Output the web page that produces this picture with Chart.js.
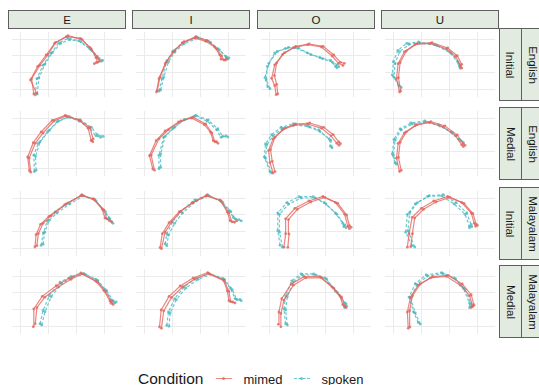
<!DOCTYPE html>
<html>
<head>
<meta charset="utf-8">
<script src="https://cdn.jsdelivr.net/npm/chart.js@4"></script>
<style>
body { margin: 0; background: #fff; font-family: "Liberation Sans", Arial, sans-serif; }
#wrap { position: relative; width: 539px; height: 385px; overflow: hidden; }
.panel { position: absolute; }
.strip { position: absolute; background: #e1ebdf; border: 1px solid #5e5e5e; box-sizing: border-box;
  color: #1a1a1a; font-size: 11.5px; display: flex; align-items: center; justify-content: center; }
.vtext { transform: rotate(90deg); white-space: nowrap; }
#legend { position: absolute; left: 138px; top: 370px; height: 18px; display: flex; align-items: center; color: #1a1a1a; }
#legend .title { font-size: 15.5px; margin-right: 12px; }
#legend .item { font-size: 13px; margin-right: 11px; }
.key { position: relative; width: 16px; height: 10px; margin-right: 12px; }
.key .ln { position: absolute; left: 0; right: 0; top: 4px; }
.key .dot { position: absolute; left: 6px; top: 3px; width: 3px; height: 3px; border-radius: 50%; }
</style>
</head>
<body>
<div id="wrap"></div>
<script>
// |------------------------------- data -------------------------------|

var vowels = ['E', 'I', 'O', 'U'];
var languages = ['English', 'English', 'Malayalam', 'Malayalam'];
var positions = ['Initial', 'Medial', 'Initial', 'Medial'];
var xTicks = [0, 10, 20, 30];
var yTicks = [0, 10, 20, 30];

// contours per vowel (E, I, O, U) as [x, y] pairs, two repetitions each
var mimedEnglishInitial = [
  [[4.8,-3],[4,6.2],[7,14.3],[9.8,20.5],[12.6,28],[17,32],[22,29.8],[25.3,24],[27,18.8],[27.6,16],[26.4,15.2]],
  [[4.3,-1.8],[5.2,6.2],[7.4,15.2],[10.2,22.3],[13.6,27.7],[18,30.7],[21.9,28.6],[25.2,25],[26.9,20.5],[27.4,17.9],[29,17.4]],
  [[2.4,-3.4],[1.9,2],[0.8,6.4],[1.9,14.5],[4.7,20.7],[8.6,24.8],[13.6,26.6],[18.6,25.2],[22.4,19.8],[24.7,15.4],[26.3,14.1]],
  [[2.2,-1.8],[1.1,6.2],[1.7,15.2],[3.9,22.3],[7.8,26.8],[13.3,27.3],[18.9,24.1],[22.2,19.6],[23.9,14.3],[24.4,12.5]]
];
var mimedEnglishInitial2 = [
  [[5.8,-2.6],[3.6,5.4],[6.2,13.6],[9.2,20.4],[12.2,27.4],[16.4,31.4],[21.4,30.4],[24.8,25],[27.4,19.6],[28.3,16.8],[27.2,16]],
  [[4.6,-1],[5.6,7.2],[7.8,16],[10.8,23],[14.2,28.4],[18.4,31.4],[22.4,29.2],[25.8,24.2],[27.6,19.8],[28.4,17.4],[29.4,18.2]],
  [[3,-3],[2.6,2.8],[1.8,8],[2.6,15.6],[5.4,21.8],[9.4,25.6],[14.2,27],[19.2,25.6],[23,20.4],[25.4,16],[26.8,15.4]],
  [[2.6,-1.2],[1.8,6.8],[2.4,15.8],[4.6,22.8],[8.4,27.2],[13.8,27.8],[19.4,24.6],[22.8,20],[24.4,14.8],[23.9,13.2]]
];
var spokenEnglishInitial = [
  [[5.3,-3.6],[5.9,6.2],[8.1,14.3],[10.9,21.4],[13.7,27.7],[17,30.4],[20.9,29],[24.8,24],[27.6,18.4],[28.9,16.6]],
  [[5.2,-1.3],[6.3,6.2],[8,17],[10.2,22.7],[13.6,27.7],[18.6,31.2],[23,28.6],[26.3,24.1],[29.1,19.6],[29.7,17.9]],
  [[0.2,0.2],[-1.1,5.5],[-0.7,13.6],[1.9,21.6],[5.8,24.3],[9.1,24.8],[13.6,21.6],[18,18.9],[21.9,17.1],[23.6,13.6],[24.1,12.7]],
  [[2.8,0.9],[0.2,7.1],[0.6,15.2],[2.2,22.3],[5.6,26.8],[9.4,27.7],[15.6,25.9],[20.6,21.4],[23.3,15.2],[23.9,12.5]]
];
var spokenEnglishInitial2 = [
  [[6,-3],[6.6,6.6],[8.8,15],[11.4,21.8],[14.4,27.4],[17.6,29.6],[21.6,28.4],[25.4,23.4],[28.2,18.2],[29.4,17.2]],
  [[5.8,-0.6],[6.9,7],[8.6,16.2],[10.8,22],[14.2,27.2],[19.2,30.6],[23.6,28],[26.8,23.4],[29.4,19],[30.2,18.6]],
  [[-0.6,1.4],[-1.6,6.8],[-0.2,15.4],[2.8,22.6],[6.8,25],[10.4,24.6],[14.8,20.6],[19,18.2],[22.6,16],[24.2,14.4],[24.8,13.4]],
  [[2,2],[-0.4,8.4],[0,16.4],[1.6,23.2],[4.8,27.4],[9,28.2],[15,26.6],[20.2,22.2],[23,16.4],[23.6,13.6]]
];
var mimedEnglishMedial = [
  [[3.7,-2.5],[3.1,5.9],[5.3,14.8],[8.1,21],[12,28.2],[16.4,31.2],[21.4,28.2],[24.2,23.8],[25.3,16.6],[25.9,15.7]],
  [[3.6,-1.3],[2.4,7.7],[5.2,17.5],[8.6,22.9],[13,28.2],[17.4,30.5],[21.9,26.4],[24.1,21],[25.2,15.7],[26.3,14.8]],
  [[1.3,-3],[0.2,3.2],[-0.3,10.4],[1.3,17.5],[4.7,22.9],[8.6,25.5],[13.6,26.4],[18.6,23.8],[22,19.3],[24.1,14.8],[24.9,13.6]],
  [[2.2,-2.1],[1.1,5.9],[1.7,14.8],[3.9,21],[7.8,25.5],[12.8,27.3],[17.8,24.6],[22.2,19.3],[24.4,13.9],[25,12.9]]
];
var mimedEnglishMedial2 = [
  [[3.2,-1.6],[2.6,6.6],[4.6,15.2],[7.4,21.6],[11.4,28.6],[16,31.6],[21,28.8],[24.8,24.4],[26,17.4],[25.4,16.4]],
  [[3,-0.6],[1.8,7.4],[4.2,16.4],[7.4,22.2],[12.2,27.6],[16.8,30],[21.4,26],[23.6,21.6],[24.6,16.4],[25.8,15.8]],
  [[2,-2.2],[1,4],[0.4,11],[2,18.4],[5.4,23.8],[9.4,26.4],[14.4,27],[19.4,24.4],[22.8,20],[24.8,15.6],[25.4,14.6]],
  [[2.8,-1.4],[1.8,6.4],[2.4,15.4],[4.6,21.6],[8.4,26],[13.4,27.8],[18.4,25.2],[22.8,19.8],[25,14.6],[25.6,13.6]]
];
var spokenEnglishMedial = [
  [[5,-2.1],[4.8,7.7],[6.4,14.8],[9.8,22],[13.1,27.7],[17,30.5],[20.9,28.2],[24.8,23.8],[27,19.3],[28.7,18.4]],
  [[5.2,-0.4],[5.2,7.7],[6.9,18.4],[10.2,23.8],[14.1,28.8],[18,31.2],[22.4,28.2],[25.8,22.9],[27.4,18.4],[29.1,19.3]],
  [[0.8,-3],[-1.4,5.9],[-0.9,13.9],[1.3,19.3],[4.7,23.8],[9.1,26],[14.1,24.6],[18,22],[21.9,16.6],[22.4,12.1]],
  [[1.1,2.3],[0,7.7],[0.6,16.6],[2.8,22.9],[6.7,26.4],[11.7,27.7],[16.7,25.2],[21.1,21],[23.9,16.6],[25,15.2]]
];
var spokenEnglishMedial2 = [
  [[5.6,-1.4],[5.4,7],[7,15.6],[10.4,22.6],[13.6,28.2],[17.4,30.9],[21.4,28.8],[25.4,24.4],[27.6,19.8],[29.6,19]],
  [[5.8,0.4],[5.8,8.4],[7.4,19],[10.8,24.4],[14.6,29.2],[18.4,31.6],[22.8,28.8],[26.2,23.6],[28,19],[29.8,18.6]],
  [[0.2,-2.2],[-1.8,6.6],[-1.4,14.4],[0.8,20],[4.2,24.4],[8.6,26.6],[13.6,25.4],[17.6,22.8],[21.4,17.4],[21.8,13]],
  [[0.6,3],[-0.4,8.4],[0.2,17.2],[2.4,23.4],[6.2,27],[11.2,28.2],[16.2,25.8],[20.6,21.6],[23.4,17.2],[24.4,16]]
];
var mimedMalayalamInitial = [
  [[5.9,1.4],[6.4,8.6],[8.1,14.8],[10.9,19.3],[16.4,26.4],[22,31.8],[26.4,29.1],[29.8,22.9],[30.9,17.5],[32.6,15.7]],
  [[6.1,-0.4],[7.4,9.5],[9.7,15.7],[13,22],[17.4,27.3],[22.4,31.8],[27.4,28.2],[30.2,21],[31.3,15.7],[33,16.3]],
  [[5.2,0.5],[5.8,8.6],[5.8,17.5],[9.1,23.8],[14.1,28.2],[19.1,30.9],[23.6,27.3],[26.9,20.2],[28,13],[28.6,11.6]],
  [[5,0.5],[5.6,8.6],[6.7,18.4],[10,23.8],[14.4,28.2],[19.4,30.9],[24.4,27.3],[27.8,21],[28.9,14.8],[29.4,13]]
];
var mimedMalayalamInitial2 = [
  [[5.2,0.6],[5.6,8],[7.2,14.2],[10.2,19],[15.8,26],[21.6,31.4],[26,29.6],[29.2,23.4],[30.2,18],[31.8,16.4]],
  [[5.6,0.2],[6.4,8.6],[8.8,15.2],[12.4,21.6],[17,27],[22,31.2],[27,28.8],[29.6,21.6],[30.6,16.4],[32.2,15.4]],
  [[6.6,0.4],[7,8.4],[6.8,17],[10,23.2],[14.8,27.6],[19.8,30.4],[24.4,26.8],[27.6,19.8],[28.6,13.4],[29.2,12.4]],
  [[6.2,0.8],[6.8,8.6],[7.6,18],[10.8,23.2],[15.2,27.6],[20.2,30.4],[25.2,26.8],[28.4,20.6],[29.6,14.2],[30,13.6]]
];
var spokenMalayalamInitial = [
  [[8.1,2.3],[8.7,9.5],[10.3,16.6],[13.1,21],[17.6,26.4],[22.6,31.3],[27,28.2],[30.3,22],[32,17.5],[33.1,14.8]],
  [[8,1.4],[8.6,7.7],[10.8,14.8],[13.6,21],[18.6,28.2],[23,31.3],[28,27.3],[30.8,22],[32.4,17.5],[34.6,16.3]],
  [[4.7,0.5],[3.6,9.5],[3.6,20.2],[6.9,26.4],[11.3,30],[16.3,30],[20.2,26.4],[24.1,20.2],[26.9,13.9],[27.4,12.1]],
  [[6.7,1.4],[4.4,9.5],[5,20.2],[7.8,26.4],[12.2,30.9],[17.2,31.3],[21.7,26.4],[25.6,20.2],[27.2,13],[27.2,12.1]]
];
var spokenMalayalamInitial2 = [
  [[7.4,1.6],[8.2,9],[9.6,16],[12.4,21.6],[17,27],[22,31.8],[26.6,28.8],[29.8,22.6],[31.6,18],[32.6,15.6]],
  [[7.4,2.4],[8,8.4],[10,15.6],[13,21.8],[18,28.8],[22.6,31.8],[27.4,28],[30.2,22.6],[31.8,18.2],[33.8,17]],
  [[3.8,1.6],[3,10.4],[3,21],[6.2,27.2],[10.6,30.8],[15.6,30.8],[19.6,27.2],[23.6,21],[26.2,14.8],[26.6,12.8]],
  [[7.6,0.6],[5.2,10.4],[5.8,21],[8.6,27.2],[12.8,31.4],[17.8,32],[22.4,27.2],[26.2,21],[27.8,14],[28,12.8]]
];
var mimedMalayalamMedial = [
  [[5.3,1.3],[5.9,11],[8.7,17.3],[13.7,23.6],[18.1,28],[22,31.3],[27.6,26.3],[30.3,20.9],[32.6,14.6],[33.1,12.9]],
  [[6.1,-1.4],[6.9,9.1],[9.7,17.1],[13.6,23.4],[18,28.2],[23,31.4],[28.6,27],[30.2,20.7],[30.8,14.6],[32.4,13.8]],
  [[4.1,-0.5],[4.1,7.5],[5.2,15.5],[8.6,24.5],[13,28.9],[18.6,28.9],[23,22.7],[25.8,17.3],[26.9,12],[27.4,11.1]],
  [[5.3,-1.4],[5,8.4],[6.1,17.3],[8.9,24.5],[13.3,28.9],[18.9,29.8],[23.9,24.5],[27.2,18.2],[28.3,12],[27.8,11.1]]
];
var mimedMalayalamMedial2 = [
  [[4.6,-0.4],[4.8,10.2],[7.8,17.8],[12.8,24.2],[17.4,28.6],[21.6,31.8],[27,26.8],[29.8,21.4],[32,15],[32.4,13.6]],
  [[5.4,-0.6],[6,9.6],[8.8,17.8],[12.8,24],[17.4,28.8],[22.6,32],[28.2,27.6],[29.6,21.2],[30.2,15.2],[31.6,14.4]],
  [[3.2,1],[3.4,8.4],[4.4,16.4],[7.8,25.2],[12.4,29.6],[18,29.6],[22.4,23.4],[25.2,18],[26.2,12.8],[26.8,11.8]],
  [[5.9,-0.6],[5.8,9.2],[6.8,18],[9.6,25.2],[14,29.6],[19.6,30.4],[24.6,25.2],[27.8,18.8],[28.8,12.6],[28.4,11.8]]
];
var spokenMalayalamMedial = [
  [[7,1.3],[8.1,9.3],[10.3,18.2],[14.2,26.3],[18.1,29.8],[22.6,31.6],[27,28],[30.3,21.8],[32.6,15.5],[33.7,13.8]],
  [[8,0.4],[8.6,8.4],[10.8,16.4],[14.1,23.4],[18.6,28.6],[23,31.6],[28,28.6],[30.8,22.5],[32.4,16.4],[34.1,15.9]],
  [[5.8,1.3],[5.2,10.2],[5.8,18.2],[8,27.1],[11.3,31.3],[15.8,31.3],[19.8,28.9],[23.6,20.9],[26.9,13.8],[26.9,11.1]],
  [[8.9,2.1],[7.2,8.4],[5.6,17.3],[7.8,25.4],[11.7,30.7],[17.2,32],[21.7,28.9],[25,22.7],[27.2,13.8],[27.2,11.1]]
];
var spokenMalayalamMedial2 = [
  [[7.6,0.6],[8.8,8.6],[11,17.6],[14.8,25.6],[18.6,29.2],[23.2,31],[27.6,27.4],[30.8,21.2],[33.2,15],[34.2,14.4]],
  [[8.8,-0.2],[9.2,7.8],[11.4,15.8],[14.8,22.8],[19.2,28],[23.6,31],[28.6,28],[31.4,21.8],[33,15.8],[34.6,15.2]],
  [[6.4,0.6],[5.8,9.6],[6.4,17.6],[8.6,26.4],[11.8,30.6],[16.4,30.6],[20.4,28.2],[24.2,20.2],[27.4,13.2],[27.6,11.8]],
  [[9.6,1.2],[7.8,7.8],[6.2,16.6],[8.4,24.8],[12.2,30],[17.8,31.4],[22.2,28.2],[25.6,22],[27.8,13.2],[27.8,11.8]]
];

var mimedRows = [
  [mimedEnglishInitial, mimedEnglishInitial2],
  [mimedEnglishMedial, mimedEnglishMedial2],
  [mimedMalayalamInitial, mimedMalayalamInitial2],
  [mimedMalayalamMedial, mimedMalayalamMedial2]
];
var spokenRows = [
  [spokenEnglishInitial, spokenEnglishInitial2],
  [spokenEnglishMedial, spokenEnglishMedial2],
  [spokenMalayalamInitial, spokenMalayalamInitial2],
  [spokenMalayalamMedial, spokenMalayalamMedial2]
];

// |------------------------------- layout -------------------------------|

var colLeft = [8, 132, 257, 381];
var rowTop = [28, 107, 187, 265];
var panelW = 118, panelH = 73;
var mimedColor = 'rgba(226, 104, 96, 0.8)';
var spokenColor = 'rgba(72, 186, 192, 0.8)';

var wrap = document.getElementById('wrap');

function addStrip(left, top, w, h, text, vertical) {
  var d = document.createElement('div');
  d.className = 'strip';
  d.style.left = left + 'px'; d.style.top = top + 'px';
  d.style.width = w + 'px'; d.style.height = h + 'px';
  var s = document.createElement('span');
  s.textContent = text;
  if (vertical) s.className = 'vtext';
  d.appendChild(s);
  wrap.appendChild(d);
}

vowels.forEach(function (v, c) { addStrip(colLeft[c], 10, panelW, 19, v, false); });
positions.forEach(function (p, r) {
  addStrip(499, rowTop[r], 23, panelH, p, true);
  addStrip(521, rowTop[r], 23, panelH, languages[r], true);
});

function curveSet(pts, color, dashed) {
  return {
    data: pts.map(function (p) { return { x: p[0], y: p[1] }; }),
    showLine: true,
    borderColor: color,
    backgroundColor: color,
    borderWidth: 1.2,
    borderDash: dashed ? [3, 2] : [],
    pointRadius: 1.4,
    pointBorderWidth: 0
  };
}

function gridAxis(min, max, ticks) {
  return {
    type: 'linear', min: min, max: max,
    afterBuildTicks: function (ax) { ax.ticks = ticks.map(function (v) { return { value: v }; }); },
    ticks: { display: false },
    grid: { color: '#ebebeb', lineWidth: 1, drawTicks: false },
    border: { display: false }
  };
}

for (var r = 0; r < 4; r++) {
  for (var c = 0; c < 4; c++) {
    var cv = document.createElement('canvas');
    cv.className = 'panel';
    cv.width = panelW; cv.height = panelH;
    cv.style.left = colLeft[c] + 'px'; cv.style.top = rowTop[r] + 'px';
    cv.style.width = panelW + 'px'; cv.style.height = panelH + 'px';
    wrap.appendChild(cv);

    var sets = [];
    mimedRows[r].forEach(function (rep) { sets.push(curveSet(rep[c], mimedColor, false)); });
    spokenRows[r].forEach(function (rep) { sets.push(curveSet(rep[c], spokenColor, true)); });

    new Chart(cv.getContext('2d'), {
      type: 'scatter',
      data: { datasets: sets },
      options: {
        responsive: false,
        animation: false,
        events: [],
        layout: { padding: 0 },
        plugins: { legend: { display: false }, tooltip: { enabled: false } },
        scales: {
          x: gridAxis(-3, 36.3, xTicks),
          y: gridAxis(-4.8, 34.2, yTicks)
        }
      }
    });
  }
}

// |------------------------------- legend -------------------------------|

var legend = document.createElement('div');
legend.id = 'legend';
legend.innerHTML =
  '<span class="title">Condition</span>' +
  '<span class="key"><span class="ln" style="border-top:1.5px solid ' + mimedColor + '"></span><span class="dot" style="background:' + mimedColor + '"></span></span>' +
  '<span class="item">mimed</span>' +
  '<span class="key"><span class="ln" style="border-top:1.5px dashed ' + spokenColor + '"></span><span class="dot" style="background:' + spokenColor + '"></span></span>' +
  '<span class="item">spoken</span>';
wrap.appendChild(legend);
</script>
</body>
</html>
